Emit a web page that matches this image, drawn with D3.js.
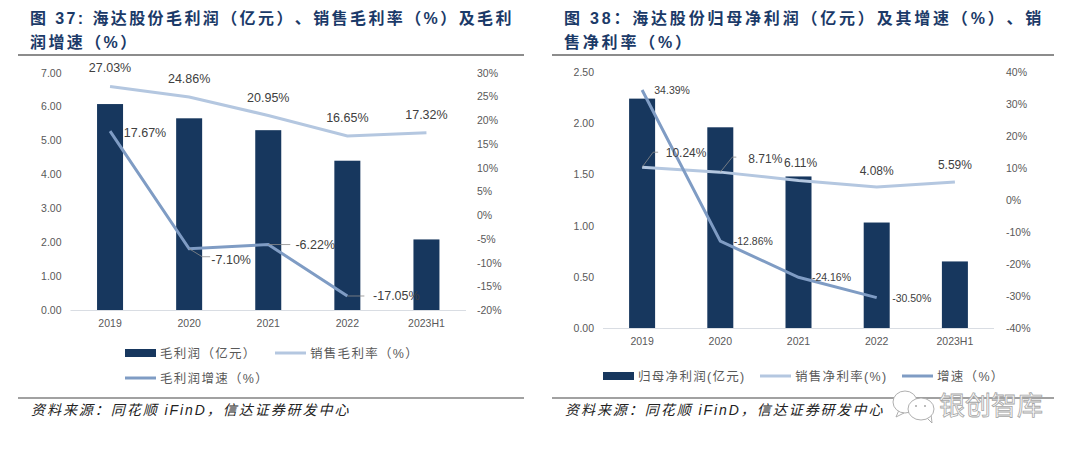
<!DOCTYPE html>
<html>
<head>
<meta charset="utf-8">
<script src="https://cdn.jsdelivr.net/npm/d3@7/dist/d3.min.js"></script>
<style>
  html, body { margin: 0; padding: 0; background: #fff; }
  svg { display: block; font-family: "Liberation Sans", "Noto Sans CJK SC", sans-serif; text-spacing-trim: space-all; }
</style>
</head>
<body>
<svg id="chart" width="1080" height="454"></svg>
<script>
const categories = ["2019", "2020", "2021", "2022", "2023H1"];

// Figure 37
const grossProfit = [6.07, 5.65, 5.30, 4.40, 2.08];
const grossMargin = [27.03, 24.86, 20.95, 16.65, 17.32];
const grossGrowth = [17.67, -7.10, -6.22, -17.05];
const leftTicks = [0, 1, 2, 3, 4, 5, 6, 7];
const leftRateTicks = [-20, -15, -10, -5, 0, 5, 10, 15, 20, 25, 30];

// Figure 38
const netProfit = [2.24, 1.96, 1.48, 1.03, 0.65];
const netMargin = [10.24, 8.71, 6.11, 4.08, 5.59];
const netGrowth = [34.39, -12.86, -24.16, -30.50];
const rightTicks = [0, 0.5, 1, 1.5, 2, 2.5];
const rightRateTicks = [-40, -30, -20, -10, 0, 10, 20, 30, 40];

const NAVY = "#17375e";
const LIGHT = "#b4c7e0";
const MID = "#7f9cc4";
const TITLE = "#1b3a68";
const GREY = "#595959";

const svg = d3.select("#chart");

function drawPanel(p) {
  const g = svg.append("g");

  // title and rules
  p.title.forEach((t, i) => {
    g.append("text").attr("x", p.titleX).attr("y", 23.5 + i * 24)
      .attr("fill", TITLE).attr("font-size", 16).attr("font-weight", 700)
      .attr("letter-spacing", p.titleSpacing).text(t);
  });
  g.append("line").attr("x1", p.ruleX[0]).attr("x2", p.ruleX[1]).attr("y1", 55).attr("y2", 55)
    .attr("stroke", "#666").attr("stroke-width", 1.5);
  g.append("line").attr("x1", p.ruleX[0]).attr("x2", p.ruleX[1]).attr("y1", 398).attr("y2", 398)
    .attr("stroke", "#444").attr("stroke-width", 1.2);
  g.append("text").attr("x", p.titleX + 1).attr("y", 414.5).attr("font-size", 14)
    .attr("font-style", "italic").attr("fill", "#222").attr("letter-spacing", 1.95)
    .text("资料来源：同花顺 iFinD，信达证券研发中心");

  const x = d3.scaleBand().domain(categories).range(p.xRange).paddingInner(0).paddingOuter(0);
  const y = d3.scaleLinear().domain(p.yDomain).range([p.bottom, p.top]);
  const yRate = d3.scaleLinear().domain(p.rateDomain).range([p.bottom, p.top]);
  const cx = (i) => x(categories[i]) + x.bandwidth() / 2;

  // bars
  g.selectAll("rect.bar").data(p.bars).join("rect").attr("class", "bar")
    .attr("x", (d, i) => cx(i) - 13).attr("width", 26)
    .attr("y", (d) => y(d)).attr("height", (d) => p.bottom - y(d)).attr("fill", NAVY);

  // baseline + tick labels
  g.append("line").attr("x1", p.xRange[0]).attr("x2", p.xRange[1]).attr("y1", p.bottom + 0.5).attr("y2", p.bottom + 0.5)
    .attr("stroke", "#d9dde3").attr("stroke-width", 1.2);
  g.selectAll("text.xt").data(categories).join("text").attr("class", "xt")
    .attr("x", (d) => x(d) + x.bandwidth() / 2).attr("y", p.bottom + 17).attr("text-anchor", "middle")
    .attr("font-size", 10.5).attr("fill", GREY).text((d) => d);
  g.selectAll("text.yt").data(p.yTicks).join("text").attr("class", "yt")
    .attr("x", p.xRange[0] - 9).attr("y", (d) => y(d) + 4).attr("text-anchor", "end")
    .attr("font-size", 10.5).attr("fill", GREY).text((d) => d3.format(".2f")(d));
  g.selectAll("text.rt").data(p.rateTicks).join("text").attr("class", "rt")
    .attr("x", p.rateX).attr("y", (d) => yRate(d) + 4)
    .attr("font-size", 10.5).attr("fill", GREY).text((d) => d + "%");

  // lines
  const line = d3.line().x((d, i) => cx(i)).y((d) => yRate(d));
  g.append("path").attr("d", line(p.margin)).attr("fill", "none")
    .attr("stroke", LIGHT).attr("stroke-width", 3);
  g.append("path").attr("d", line(p.growth)).attr("fill", "none")
    .attr("stroke", MID).attr("stroke-width", 3);

  // data labels, offsets are relative to the point
  function labels(values, offsets, fontSize) {
    values.forEach((v, i) => {
      const [dx, dy, leader] = offsets[i];
      const px = cx(i), py = yRate(v);
      if (leader) {
        g.append("path").attr("fill", "none").attr("stroke", "#8c8c8c").attr("stroke-width", 0.8)
          .attr("d", d3.line()(leader.map(([a, b]) => [px + a, py + b])));
      }
      g.append("text").attr("x", px + dx).attr("y", py + dy).attr("font-size", fontSize)
        .attr("text-anchor", "middle").attr("fill", "#404040").text(v.toFixed(2) + "%");
    });
  }
  labels(p.margin, p.marginLabels, p.marginFont);
  labels(p.growth, p.growthLabels, p.growthFont);

  // legend
  p.legend.forEach((l) => {
    if (l.kind === "bar") {
      g.append("rect").attr("x", l.x).attr("y", l.y - 4).attr("width", 31).attr("height", 8).attr("fill", NAVY);
    } else {
      g.append("line").attr("x1", l.x).attr("x2", l.x + 31).attr("y1", l.y).attr("y2", l.y)
        .attr("stroke", l.kind === "light" ? LIGHT : MID).attr("stroke-width", 3);
    }
    g.append("text").attr("x", l.x + 35).attr("y", l.y + 4.5).attr("font-size", 12.5)
      .attr("fill", GREY).attr("letter-spacing", 1.3).text(l.text);
  });
}

drawPanel({
  title: ["图 37: 海达股份毛利润（亿元）、销售毛利率（%）及毛利", "润增速（%）"],
  titleX: 30, titleSpacing: 2.4, ruleX: [18, 524],
  xRange: [70.5, 466], top: 72.5, bottom: 310,
  yDomain: [0, 7], rateDomain: [-20, 30], yTicks: leftTicks, rateTicks: leftRateTicks, rateX: 477,
  bars: grossProfit, margin: grossMargin, growth: grossGrowth,
  marginFont: 12.5, growthFont: 12.5,
  marginLabels: [[0, -15], [0, -14], [0, -13], [0, -14], [0, -14]],
  growthLabels: [
    [35, 6],
    [42, 15, [[0, 0], [13, 8], [21, 8]]],
    [47, 4, [[0, 0], [22, 0]]],
    [49, 4, [[0, 0], [17, 0]]],
  ],
  legend: [
    { kind: "bar", x: 125, y: 353, text: "毛利润（亿元）" },
    { kind: "light", x: 275, y: 353, text: "销售毛利率（%）" },
    { kind: "mid", x: 125, y: 378, text: "毛利润增速（%）" },
  ],
});

drawPanel({
  title: ["图 38：海达股份归母净利润（亿元）及其增速（%）、销", "售净利率（%）"],
  titleX: 564, titleSpacing: 2.8, ruleX: [552, 1054],
  xRange: [603, 994], top: 72, bottom: 328,
  yDomain: [0, 2.5], rateDomain: [-40, 40], yTicks: rightTicks, rateTicks: rightRateTicks, rateX: 1006,
  bars: netProfit, margin: netMargin, growth: netGrowth,
  marginFont: 12, growthFont: 10.5,
  marginLabels: [
    [44, -10, [[0, 0], [11, -15], [16, -15]]],
    [45, -9, [[0, 0], [12, -15], [16, -15]]],
    [2, -13],
    [0, -12],
    [0, -13],
  ],
  growthLabels: [[30, 4], [33, 4], [33, 4], [35, 4]],
  legend: [
    { kind: "bar", x: 603, y: 376, text: "归母净利润(亿元)" },
    { kind: "light", x: 760, y: 376, text: "销售净利率(%)" },
    { kind: "mid", x: 902, y: 376, text: "增速（%）" },
  ],
});

// watermark
const wm = svg.append("g").attr("fill", "#fff").attr("stroke", "#a6a6a6").attr("stroke-width", 0.9);
wm.append("path").attr("d", "M899 410 L896 417 L904 413 Z");
wm.append("ellipse").attr("cx", 905).attr("cy", 402).attr("rx", 12).attr("ry", 11);
wm.append("path").attr("d", "M926 417 L932 423 L931 414 Z");
wm.append("ellipse").attr("cx", 921).attr("cy", 409).attr("rx", 13).attr("ry", 11);
[[916, 406], [925, 406]].forEach(([a, b]) => {
  wm.append("circle").attr("cx", a).attr("cy", b).attr("r", 1).attr("fill", "#a6a6a6").attr("stroke", "none");
});
wm.append("text").attr("x", 939).attr("y", 415).attr("font-size", 26).attr("stroke-width", 0.8)
  .attr("fill", "#fff").text("银创智库");
</script>
</body>
</html>
